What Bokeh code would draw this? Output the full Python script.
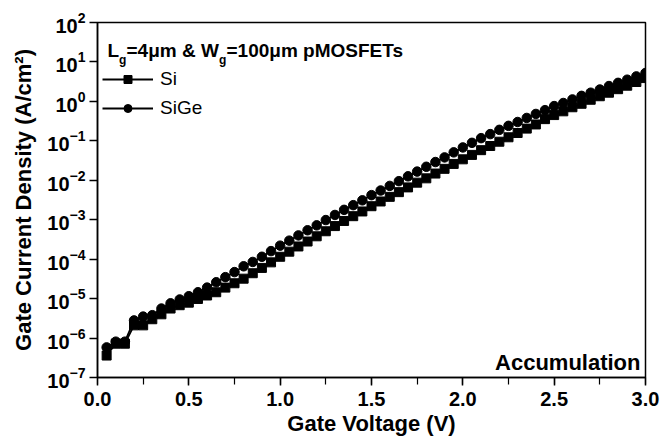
from bokeh.plotting import figure
from bokeh.models import (ColumnDataSource, Legend, LegendItem, Label, FixedTicker,
                          SingleIntervalTicker, NumeralTickFormatter, LogTickFormatter, Range1d)
from bokeh.embed import file_html
from bokeh.resources import INLINE

# ---- data ----
voltage = [0.05, 0.10, 0.15, 0.20, 0.25, 0.30, 0.35, 0.40, 0.45, 0.50,
           0.55, 0.60, 0.65, 0.70, 0.75, 0.80, 0.85, 0.90, 0.95, 1.00,
           1.05, 1.10, 1.15, 1.20, 1.25, 1.30, 1.35, 1.40, 1.45, 1.50,
           1.55, 1.60, 1.65, 1.70, 1.75, 1.80, 1.85, 1.90, 1.95, 2.00,
           2.05, 2.10, 2.15, 2.20, 2.25, 2.30, 2.35, 2.40, 2.45, 2.50,
           2.55, 2.60, 2.65, 2.70, 2.75, 2.80, 2.85, 2.90, 2.95, 3.00]

si_current = [3.6e-7, 7.2e-7, 7.2e-7, 2.1e-6, 2.1e-6, 3.0e-6, 4.0e-6, 5.6e-6, 6.8e-6, 7.9e-6,
              9.8e-6, 1.2e-5, 1.45e-5, 1.9e-5, 2.45e-5, 3.2e-5, 4.4e-5, 6.0e-5, 8.3e-5, 1.15e-4,
              1.55e-4, 2.1e-4, 2.8e-4, 3.8e-4, 5.1e-4, 6.9e-4, 9.3e-4, 1.23e-3, 1.62e-3, 2.2e-3,
              2.9e-3, 3.8e-3, 5.0e-3, 6.6e-3, 8.7e-3, 1.12e-2, 1.48e-2, 1.95e-2, 2.6e-2, 3.4e-2,
              4.4e-2, 5.8e-2, 7.4e-2, 9.5e-2, 0.123, 0.158, 0.204, 0.26, 0.355, 0.45,
              0.56, 0.71, 0.87, 1.10, 1.35, 1.66, 2.04, 2.5, 3.1, 3.9]

sige_current = [5.8e-7, 8.1e-7, 8.1e-7, 2.8e-6, 3.5e-6, 3.8e-6, 5.6e-6, 7.6e-6, 9.5e-6, 1.15e-5,
                1.45e-5, 1.9e-5, 2.6e-5, 3.5e-5, 4.7e-5, 6.6e-5, 8.5e-5, 1.15e-4, 1.6e-4, 2.2e-4,
                2.95e-4, 4.0e-4, 5.4e-4, 7.2e-4, 9.8e-4, 1.32e-3, 1.78e-3, 2.34e-3, 3.1e-3, 4.2e-3,
                5.5e-3, 7.2e-3, 9.5e-3, 1.26e-2, 1.66e-2, 2.2e-2, 2.9e-2, 3.8e-2, 5.1e-2, 6.8e-2,
                8.9e-2, 0.117, 0.148, 0.19, 0.24, 0.30, 0.38, 0.48, 0.60, 0.76,
                0.91, 1.12, 1.38, 1.66, 2.0, 2.45, 2.95, 3.55, 4.3, 5.25]

y_ticks = [1e-7, 1e-6, 1e-5, 1e-4, 1e-3, 1e-2, 1e-1, 1e0, 1e1, 1e2]
series_names = ["Si", "SiGe"]
x_label = "Gate Voltage (V)"
y_label = "Gate Current Density (A/cm\u00b2)"
annotation = "Accumulation"

FONT = "Liberation Sans"

p = figure(width=664, height=439, y_axis_type="log",
           x_range=Range1d(0, 3.0), y_range=Range1d(1e-7, 1e2),
           output_backend="svg", toolbar_location=None,
           min_border_left=97, min_border_right=19, min_border_top=22, min_border_bottom=62)
p.background_fill_color = "white"
p.border_fill_color = "white"
p.grid.visible = False
p.outline_line_color = "black"
p.outline_line_width = 1.5

src_si = ColumnDataSource(dict(x=voltage, y=si_current))
src_sige = ColumnDataSource(dict(x=voltage, y=sige_current))

l_si = p.line("x", "y", source=src_si, line_color="black", line_width=1.8)
s_si = p.scatter("x", "y", source=src_si, marker="square", size=9, fill_color="black", line_color="black")
l_sige = p.line("x", "y", source=src_sige, line_color="black", line_width=1.8)
s_sige = p.scatter("x", "y", source=src_sige, marker="circle", size=9.5, fill_color="black", line_color="black")

legend = Legend(items=[LegendItem(label=series_names[0], renderers=[l_si, s_si]),
                       LegendItem(label=series_names[1], renderers=[l_sige, s_sige])],
                location=(5, 258), glyph_width=51, glyph_height=20, label_height=20,
                label_standoff=7, spacing=7, padding=0, margin=0,
                label_text_font=FONT, label_text_font_size="19px", label_text_color="black",
                border_line_color=None, background_fill_alpha=0)
p.add_layout(legend)

# axes
xa = p.xaxis[0]
xa.ticker = SingleIntervalTicker(interval=0.5, num_minor_ticks=2)
xa.formatter = NumeralTickFormatter(format="0.0")
ya = p.yaxis[0]
ya.ticker = FixedTicker(ticks=y_ticks)
ya.formatter = LogTickFormatter()

for ax in (xa, ya):
    ax.axis_line_color = "black"
    ax.axis_line_width = 1.5
    ax.major_tick_line_color = "black"
    ax.major_tick_line_width = 1.5
    ax.major_tick_in = 0
    ax.major_tick_out = 8
    ax.minor_tick_in = 0
    ax.minor_tick_out = 7
    ax.minor_tick_line_width = 1.2
    ax.major_label_text_font = FONT
    ax.major_label_text_font_style = "bold"
    ax.major_label_text_font_size = "20px"
    ax.major_label_text_color = "black"
    ax.axis_label_text_font = FONT
    ax.axis_label_text_font_style = "bold"
    ax.axis_label_text_font_size = "22px"
    ax.axis_label_text_color = "black"
ya.minor_tick_line_color = None
xa.axis_label = x_label
ya.axis_label = y_label
xa.major_label_standoff = 6
xa.axis_label_standoff = 2
ya.major_label_standoff = 4
ya.axis_label_standoff = 8

# in-plot title with subscripts
def add_text(txt, x, y, size, bold=True, align="left"):
    p.add_layout(Label(x=x, y=y, x_units="screen", y_units="screen", text=txt,
                       text_font=FONT, text_font_size=size,
                       text_font_style="bold" if bold else "normal",
                       text_align=align, text_baseline="alphabetic", text_color="black"))

add_text("L", 10, 327, "19px")
add_text("g", 21.5, 318, "12px")
add_text("=4\u03bcm & W", 29, 327, "19px")
add_text("g", 121.5, 318, "12px")
add_text("=100\u03bcm pMOSFETs", 129, 327, "19px")
add_text(annotation, 543, 15, "22px", align="right")

open("out.html", "w").write(file_html(p, INLINE))
